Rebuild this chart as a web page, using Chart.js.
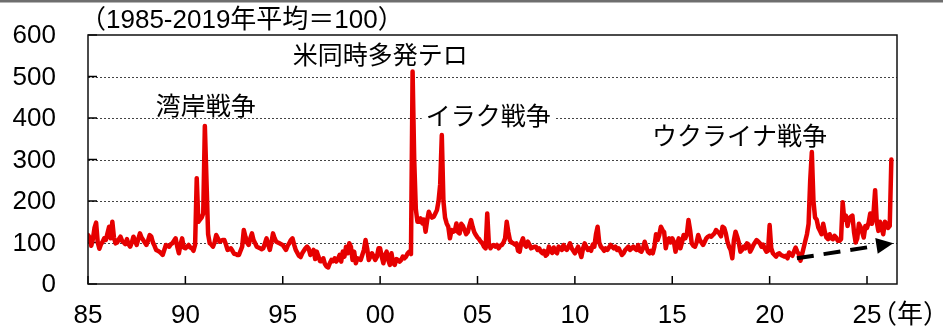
<!DOCTYPE html>
<html lang="ja">
<head>
<meta charset="utf-8">
<script src="https://cdn.jsdelivr.net/npm/chart.js@4.4.1/dist/chart.umd.min.js"></script>
<style>
  html, body { margin: 0; padding: 0; background: #fff; }
  #wrap { width: 943px; height: 326px; }
</style>
</head>
<body>
<div id="wrap"><canvas id="gpr_chart" width="943" height="326"></canvas></div>
<script>
// Geopolitical risk index, monthly, starting Jan 1985 (1985-2019 average = 100)
const start_year = 1985;
const gpr_monthly = [
  118, 112, 92, 108, 135, 148, 100, 85, 96, 102, 110, 106,    // 1985
  122, 138, 110, 150, 112, 98, 100, 108, 114, 104, 100, 96,   // 1986
  108, 96, 90, 100, 114, 104, 94, 108, 122, 112, 106, 100,    // 1987
  94, 105, 118, 114, 100, 92, 82, 80, 78, 74, 70, 82,         // 1988
  94, 92, 90, 96, 98, 104, 110, 90, 74, 95, 110, 88,          // 1989
  86, 90, 94, 88, 86, 80, 95, 255, 150, 155, 160, 170,        // 1990
  381, 250, 120, 98, 95, 90, 100, 118, 110, 102, 104, 106,    // 1991
  106, 95, 82, 84, 86, 80, 73, 72, 70, 70, 80, 90,            // 1992
  130, 114, 100, 94, 110, 122, 106, 98, 90, 88, 86, 84,       // 1993
  86, 98, 110, 95, 82, 100, 122, 110, 102, 100, 98, 96,       // 1994
  94, 88, 82, 92, 98, 106, 110, 95, 82, 75, 68, 65,           // 1995
  74, 80, 86, 90, 85, 70, 75, 82, 60, 78, 66, 55,             // 1996
  55, 62, 48, 42, 40, 50, 58, 55, 62, 54, 60, 70,             // 1997
  54, 78, 66, 90, 74, 98, 90, 58, 78, 50, 62, 60,             // 1998
  58, 70, 82, 106, 86, 58, 66, 74, 66, 58, 65, 86,            // 1999
  86, 66, 50, 70, 78, 58, 46, 74, 50, 46, 60, 58,             // 2000
  54, 58, 66, 62, 66, 74, 78, 72, 512, 300, 180, 150,         // 2001
  150, 158, 146, 155, 126, 154, 174, 165, 160, 162, 170, 178, // 2002
  200, 240, 359, 200, 160, 146, 138, 110, 130, 126, 128, 146, // 2003
  125, 122, 145, 140, 130, 120, 125, 140, 154, 138, 125, 118, // 2004
  112, 108, 102, 98, 90, 86, 170, 98, 86, 92, 94, 90,         // 2005
  94, 86, 92, 94, 100, 110, 150, 125, 105, 100, 98, 95,       // 2006
  98, 80, 78, 100, 110, 95, 90, 102, 95, 86, 88, 90,          // 2007
  90, 82, 86, 78, 74, 80, 68, 72, 90, 80, 75, 88,             // 2008
  78, 74, 90, 85, 82, 94, 86, 82, 90, 98, 86, 80,             // 2009
  74, 82, 90, 78, 65, 85, 98, 90, 82, 86, 80, 95,             // 2010
  90, 120, 138, 100, 90, 86, 80, 86, 82, 88, 94, 90,          // 2011
  86, 90, 82, 86, 78, 70, 74, 82, 86, 90, 82, 86,             // 2012
  90, 85, 82, 94, 80, 78, 86, 102, 90, 78, 74, 80,            // 2013
  74, 90, 120, 106, 118, 138, 130, 125, 86, 105, 110, 100,    // 2014
  110, 102, 78, 95, 110, 86, 100, 118, 110, 120, 154, 130,    // 2015
  98, 92, 90, 100, 118, 106, 100, 94, 102, 110, 114, 116,     // 2016
  114, 118, 122, 130, 126, 122, 115, 138, 135, 122, 102, 90,  // 2017
  82, 62, 106, 126, 114, 100, 78, 82, 90, 86, 98, 95,         // 2018
  78, 85, 94, 100, 106, 102, 98, 90, 95, 85, 78, 80,          // 2019
  142, 86, 74, 70, 66, 72, 74, 70, 68, 66, 68, 62,            // 2020
  76, 72, 68, 78, 88, 78, 72, 56, 72, 88, 104, 120,           // 2021
  145, 250, 318, 200, 160, 155, 136, 128, 120, 145, 126, 112, // 2022
  108, 120, 110, 108, 116, 112, 104, 104, 108, 197, 155, 165, // 2023
  140, 158, 162, 165, 125, 100, 110, 145, 138, 125, 112, 140, // 2024
  135, 148, 170, 145, 170, 226, 150, 128, 150, 135, 120, 150, // 2025
  145, 135, 140, 300                                          // 2026
];

const x_tick_years = [1985, 1990, 1995, 2000, 2005, 2010, 2015, 2020, 2025];
const x_tick_labels = ['85', '90', '95', '00', '05', '10', '15', '20', '25'];
const y_tick_values = [0, 100, 200, 300, 400, 500, 600];
const grid_values = [100, 200, 300, 400, 500];

// event labels, anchored at (year, index value) = centre of the text
const event_labels = ['湾岸戦争', '米同時多発テロ', 'イラク戦争', 'ウクライナ戦争'];
const event_x = [1991.05, 2000.0, 2005.55, 2018.45];
const event_y = [429, 552, 405, 359];

// dashed trend arrow (start, end)
const trend_arrow_x = [2021.4, 2026.35];
const trend_arrow_y = [62, 98];

const title_text = '（1985-2019年平均＝100）';
const unit_text = '（年）';

const latin_font = '"Liberation Sans", Arial, "Noto Sans CJK JP", sans-serif';
const cjk_font = '"Noto Sans CJK JP", "Noto Sans CJK SC", sans-serif';

function buildPoints(values) {
    return values.map((v, i) => ({ x: start_year + i / 12, y: v }));
}

const gprDecorations = {
    id: 'gprDecorations',
    beforeDatasetsDraw(chart) {
        const { ctx, chartArea: area, scales: { x, y } } = chart;
        ctx.save();

        // dotted horizontal grid
        ctx.strokeStyle = '#444';
        ctx.lineWidth = 1;
        ctx.setLineDash([2, 2]);
        grid_values.forEach(v => {
            const py = Math.round(y.getPixelForValue(v)) + 0.5;
            ctx.beginPath();
            ctx.moveTo(area.left, py);
            ctx.lineTo(area.right, py);
            ctx.stroke();
        });
        ctx.setLineDash([]);

        // inward tick marks
        ctx.strokeStyle = '#000';
        ctx.lineWidth = 1.5;
        y_tick_values.forEach(v => {
            const py = y.getPixelForValue(v);
            ctx.beginPath();
            ctx.moveTo(area.left, py);
            ctx.lineTo(area.left + 9, py);
            ctx.stroke();
        });
        x_tick_years.forEach(v => {
            const px = x.getPixelForValue(v);
            ctx.beginPath();
            ctx.moveTo(px, area.bottom);
            ctx.lineTo(px, area.bottom - 8);
            ctx.stroke();
        });

        // tick labels (drawn here: Chart.js label padding would squeeze the plot area)
        ctx.fillStyle = '#000';
        ctx.font = '26px ' + latin_font;
        ctx.textBaseline = 'middle';
        ctx.textAlign = 'right';
        y_tick_values.forEach(v => {
            ctx.fillText(String(v), area.left - 32, y.getPixelForValue(v) + 1);
        });
        ctx.textAlign = 'center';
        x_tick_years.forEach((v, i) => {
            ctx.fillText(x_tick_labels[i], x.getPixelForValue(v), area.bottom + 32);
        });

        // event labels; small white box so a grid line through the text is hidden
        ctx.font = '25px ' + cjk_font;
        ctx.textAlign = 'center';
        ctx.textBaseline = 'middle';
        event_labels.forEach((txt, i) => {
            const px = x.getPixelForValue(event_x[i]);
            const py = y.getPixelForValue(event_y[i]);
            const w = ctx.measureText(txt).width;
            ctx.fillStyle = '#fff';
            ctx.fillRect(px - w / 2 - 4, py - 10, w + 8, 20);
            ctx.fillStyle = '#000';
            ctx.fillText(txt, px, py);
        });
        ctx.restore();
    },
    afterDatasetsDraw(chart) {
        const { ctx, chartArea: area, scales: { x, y } } = chart;
        ctx.save();

        // dashed trend arrow
        const x0 = x.getPixelForValue(trend_arrow_x[0]), y0 = y.getPixelForValue(trend_arrow_y[0]);
        const x1 = x.getPixelForValue(trend_arrow_x[1]), y1 = y.getPixelForValue(trend_arrow_y[1]);
        const ang = Math.atan2(y1 - y0, x1 - x0);
        const head_len = 17, head_half = 8;
        const bx = x1 - head_len * Math.cos(ang), by = y1 - head_len * Math.sin(ang);
        ctx.strokeStyle = '#000';
        ctx.lineWidth = 4;
        ctx.setLineDash([17, 10]);
        ctx.beginPath();
        ctx.moveTo(x0, y0);
        ctx.lineTo(bx, by);
        ctx.stroke();
        ctx.setLineDash([]);
        ctx.fillStyle = '#000';
        ctx.beginPath();
        ctx.moveTo(x1, y1);
        ctx.lineTo(bx + head_half * Math.sin(ang), by - head_half * Math.cos(ang));
        ctx.lineTo(bx - head_half * Math.sin(ang), by + head_half * Math.cos(ang));
        ctx.closePath();
        ctx.fill();

        // plot frame
        ctx.strokeStyle = '#111';
        ctx.lineWidth = 1.5;
        ctx.strokeRect(area.left, area.top, area.right - area.left, area.bottom - area.top);

        // thin grey rule across the very top
        ctx.fillStyle = '#6e6e6e';
        ctx.fillRect(0, 0, chart.width, 2.5);

        // unit title and year unit
        ctx.fillStyle = '#000';
        ctx.textBaseline = 'middle';
        ctx.textAlign = 'left';
        ctx.font = '26px ' + latin_font;
        ctx.fillText(title_text, area.left - 8, 21);
        ctx.fillText(unit_text, area.right - 26, area.bottom + 32);
        ctx.restore();
    }
};

function createGprChart(element_id) {
    console.log('Creating GPR line chart');
    const ctx = document.getElementById(element_id).getContext('2d');
    new Chart(ctx, {
        type: 'line',
        data: {
            datasets: [{
                data: buildPoints(gpr_monthly),
                borderColor: 'rgb(230, 0, 0)',
                borderWidth: 4.5,
                borderJoinStyle: 'round',
                borderCapStyle: 'round',
                pointRadius: 0,
                tension: 0,
                fill: false
            }]
        },
        options: {
            responsive: false,
            animation: false,
            devicePixelRatio: 1,
            layout: { padding: { top: 35, right: 46, left: 0, bottom: 0 } },
            plugins: { legend: { display: false }, tooltip: { enabled: false } },
            scales: {
                x: {
                    type: 'linear',
                    min: 1985,
                    max: 2026.54,
                    grid: { display: false, drawTicks: false },
                    border: { display: false },
                    afterBuildTicks: s => { s.ticks = x_tick_years.map(v => ({ value: v })); },
                    afterFit: s => { s.height = 42; },
                    ticks: { display: false }
                },
                y: {
                    min: 0,
                    max: 600,
                    grid: { display: false, drawTicks: false },
                    border: { display: false },
                    afterBuildTicks: s => { s.ticks = y_tick_values.map(v => ({ value: v })); },
                    afterFit: s => { s.width = 88; },
                    ticks: { display: false }
                }
            }
        },
        plugins: [gprDecorations]
    });
}

createGprChart('gpr_chart');
</script>
</body>
</html>
